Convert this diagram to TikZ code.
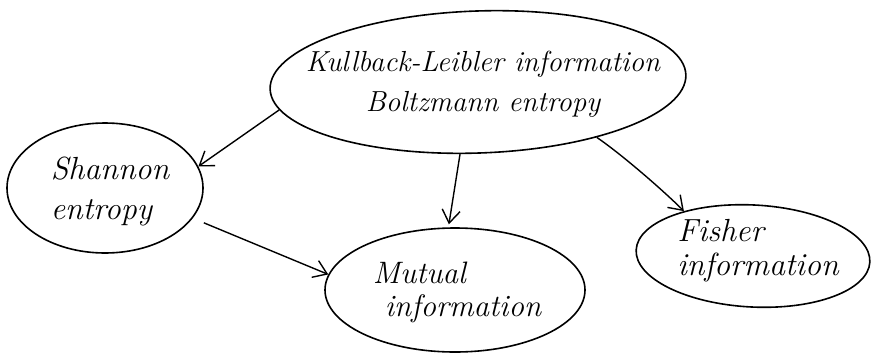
\documentclass[tikz,border=0pt]{standalone}
\usetikzlibrary{shapes.geometric,arrows.meta}
\begin{document}
\begin{tikzpicture}[x=1pt,y=-1pt,
  bubble/.style={draw, ellipse, line width=1.6pt, inner sep=0pt},
  hand/.style={font=\fontsize{32}{34}\selectfont\itshape, inner sep=0pt},
  link/.style={draw, line width=1.4pt, -{Straight Barb[length=13pt,width=18pt]}}]
\useasboundingbox (0,0) rectangle (876,354);

% the five concepts
\node[bubble, minimum width=416pt, minimum height=142pt, rotate=2] (kl) at (478,82) {};
\node[bubble, minimum width=196pt, minimum height=130pt] (sh) at (105,188) {};
\node[bubble, minimum width=260pt, minimum height=124pt] (mu) at (455,290) {};
\node[bubble, minimum width=234pt, minimum height=102pt, rotate=-3] (fi) at (753,256) {};

% their labels
\node[hand, font=\fontsize{29}{32}\selectfont\itshape, align=center] (klt) at (483,84)
  {Kullback-Leibler information\\[8pt]Boltzmann entropy};
\node[hand, align=left] (sht) at (110,191) {Shannon\\[6pt]entropy};
\node[hand, font=\fontsize{31}{33}\selectfont\itshape, align=left] (mut) at (457,292)
  {Mutual\\\hspace*{12pt}information};
\node[hand, align=left] (fit) at (758,251) {Fisher\\information};

% arrows between the concepts
\draw[link] (kl.186) -- (sh.13);
\draw[link, shorten >=3pt] (kl.254) -- (mu.96);
\draw[link] (kl.-27) .. controls +(25,17) and +(-20,-20) .. (fi.150);
\draw[link, shorten <=12pt] (sh.-19) -- (mu.173);
\end{tikzpicture}
\end{document}
